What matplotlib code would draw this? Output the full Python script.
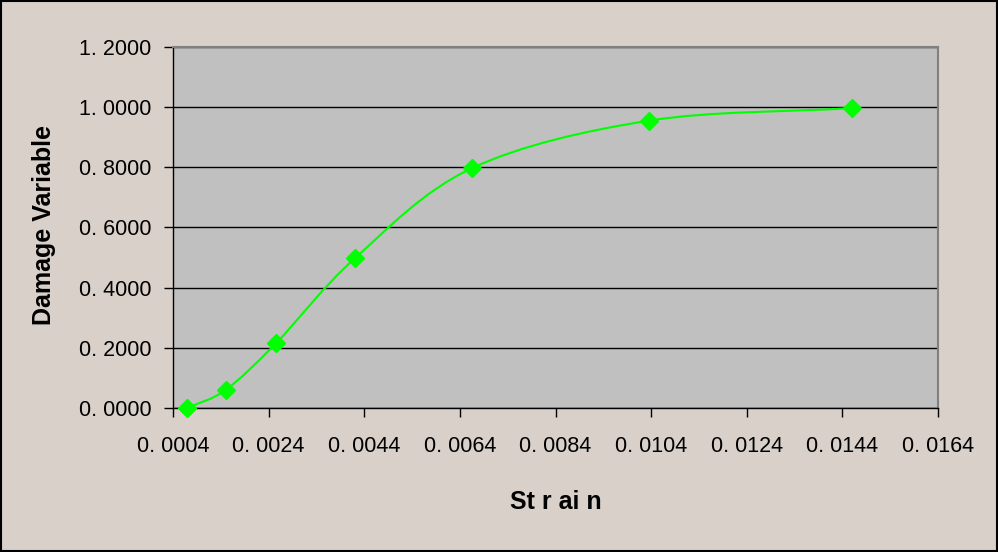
import matplotlib
matplotlib.use("Agg")
import matplotlib.pyplot as plt
from matplotlib.path import Path
from matplotlib.patches import PathPatch, Rectangle
import numpy as np

plt.rcParams['font.family'] = ['Liberation Sans', 'DejaVu Sans']

strain = [0.0007, 0.0015, 0.00255, 0.0042, 0.00665, 0.01035, 0.0146]
damage = [0.0, 0.060, 0.2145, 0.497, 0.797, 0.955, 0.997]
x_ticks = [0.0004, 0.0024, 0.0044, 0.0064, 0.0084, 0.0104, 0.0124, 0.0144, 0.0164]
x_tick_labels = ["0. 0004", "0. 0024", "0. 0044", "0. 0064", "0. 0084",
                 "0. 0104", "0. 0124", "0. 0144", "0. 0164"]
y_ticks = [0.0, 0.2, 0.4, 0.6, 0.8, 1.0, 1.2]
y_tick_labels = ["0. 0000", "0. 2000", "0. 4000", "0. 6000", "0. 8000", "1. 0000", "1. 2000"]

fig = plt.figure(figsize=(9.98, 5.52), dpi=100)
fig.patch.set_facecolor('#d8d0c9')
fig.patches.append(Rectangle((0.001, 0.001), 0.998, 0.997, transform=fig.transFigure,
                             fill=False, edgecolor='#000000', linewidth=1.5))

ax = fig.add_axes([173/998, 1 - 408/552, (938-173)/998, (408-47)/552])
ax.set_facecolor('#c0c0c0')
ax.set_xlim(0.0004, 0.0164)
ax.set_ylim(0, 1.2)

# Smoothed curve (Bezier through points, Catmull-Rom tangents, reflected ends)
P = np.column_stack([strain, damage])
n = len(P)
verts = [tuple(P[0])]
codes = [Path.MOVETO]
for i in range(n - 1):
    p0 = P[i - 1] if i > 0 else 2 * P[0] - P[1]
    p1 = P[i]
    p2 = P[i + 1]
    p3 = P[i + 2] if i + 2 < n else 2 * P[n - 1] - P[n - 2]
    c1 = p1 + (p2 - p0) / 6.0
    c2 = p2 - (p3 - p1) / 6.0
    verts += [tuple(c1), tuple(c2), tuple(p2)]
    codes += [Path.CURVE4] * 3
ax.add_patch(PathPatch(Path(verts, codes), facecolor='none', edgecolor='#00ff00',
                       linewidth=1.5, zorder=3))
ax.plot(strain, damage, linestyle='none', marker='D', markersize=9,
        color='#00ff00', markeredgecolor='#00ff00', zorder=4, clip_on=False)

ax.set_yticks(y_ticks)
ax.set_yticklabels(y_tick_labels)
ax.set_xticks(x_ticks)
ax.set_xticklabels(x_tick_labels)
ax.tick_params(axis='both', direction='out', length=6.5, width=1, color='black',
               labelsize=15.5, labelcolor='black')
ax.tick_params(axis='y', pad=9)
ax.tick_params(axis='x', pad=14)
ax.yaxis.grid(True, color='black', linewidth=1)
ax.set_axisbelow(True)

for s in ['left', 'bottom']:
    ax.spines[s].set_color('black')
    ax.spines[s].set_linewidth(1)
for s in ['top', 'right']:
    ax.spines[s].set_color('#808080')
    ax.spines[s].set_linewidth(1.5)

fig.text(44/998, 1 - 225/552, "Damage Variable", rotation=90, ha='center', va='center',
         fontsize=18, fontweight='bold')
fig.text(556/998, 1 - 502/552, "St r ai n", ha='center', va='center',
         fontsize=18, fontweight='bold')

fig.savefig('out.png', dpi=100, facecolor=fig.get_facecolor())
